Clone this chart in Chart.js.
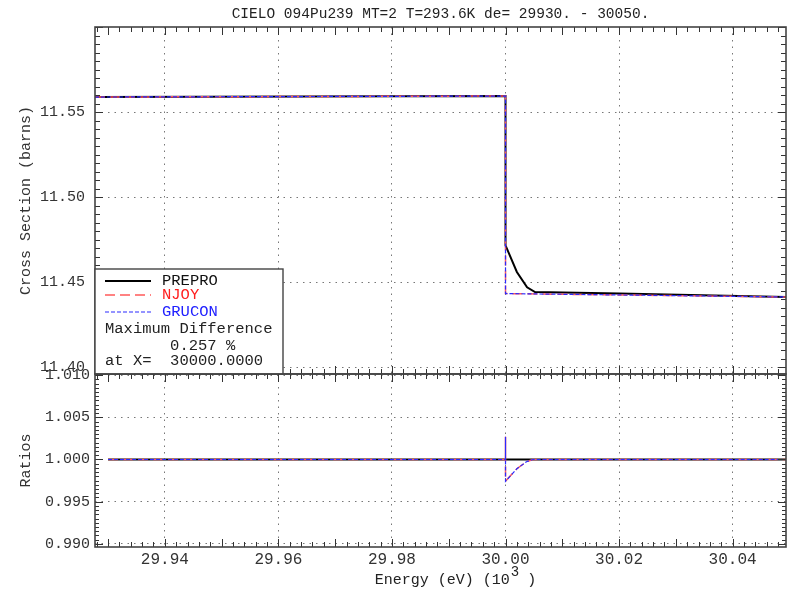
<!DOCTYPE html>
<html>
<head>
<meta charset="utf-8">
<title>CIELO 094Pu239 MT=2</title>
<script src="https://cdn.jsdelivr.net/npm/chart.js@4.4.1/dist/chart.umd.min.js"></script>
<style>
  body { margin: 0; background: #fff; }
  #wrap { position: relative; width: 788px; height: 590px; }
  #wrap canvas { position: absolute; left: 0; top: 0; }
</style>
</head>
<body>
<div id="wrap">
  <canvas id="xsChart" width="788" height="590"></canvas>
  <canvas id="ratioChart" width="788" height="590"></canvas>
</div>
<script>
// energies in units of 10^3 eV
const energyRange = [29.9277, 30.0494];
const energyTicks = [29.94, 29.96, 29.98, 30.00, 30.02, 30.04];

// cross section (barns)
const preproE   = [29.9277, 30.000, 30.000, 30.002, 30.0038, 30.0052, 30.020, 30.0494];
const preproXs  = [11.5588, 11.5594, 11.4716, 11.4559, 11.4469, 11.4441, 11.4432, 11.4412];
const njoyE     = [29.9277, 30.000, 30.000, 30.020, 30.0494];
const njoyXs    = [11.5588, 11.5594, 11.4432, 11.4424, 11.4412];
const gruconE   = [29.9277, 30.000, 30.000, 30.020, 30.0494];
const gruconXs  = [11.5588, 11.5594, 11.4432, 11.4424, 11.4412];
const xsRange   = [11.3959, 11.60];
const xsTicks   = [11.40, 11.45, 11.50, 11.55];

// ratios to PREPRO
const ratioE      = [29.930, 30.000, 30.000, 30.000, 30.002, 30.0037, 30.0048, 30.050];
const njoyRatio   = [1.0000, 1.0000, 1.0027, 0.99743, 0.9989, 0.99974, 1.0000, 1.0000];
const gruconRatio = [1.0000, 1.0000, 1.0027, 0.99743, 0.9989, 0.99974, 1.0000, 1.0000];
const preproRatioE = [29.930, 30.050];
const preproRatio  = [1.0000, 1.0000];
const ratioRange  = [0.98963, 1.01013];
const ratioTicks  = [0.990, 0.995, 1.000, 1.005, 1.010];

const MONO = "'Liberation Mono', 'DejaVu Sans Mono', monospace";
Chart.defaults.font.family = MONO;
Chart.defaults.color = '#222';

const toPoints = (xs, ys) => xs.map((x, i) => ({ x: x, y: ys[i] }));

const lineStyles = {
  PREPRO: { color: '#000000', width: 2, dash: [] },
  NJOY:   { color: '#ff5a5a', width: 1.5, dash: [10, 5] },
  GRUCON: { color: '#2a2aff', width: 1.2, dash: [4, 2] }
};

function series(label, xs, ys, order) {
  const st = lineStyles[label];
  return {
    label: label,
    data: toPoints(xs, ys),
    borderColor: st.color,
    borderWidth: st.width,
    borderDash: st.dash,
    pointRadius: 0,
    tension: 0,
    fill: false,
    order: order
  };
}

const dotted = { display: false, dash: [1.5, 5] };
const gridStyle = { color: '#777', lineWidth: 1, drawTicks: false };

// inward tick marks and the frame round each panel
const panelFrame = {
  id: 'panelFrame',
  afterDatasetsDraw(chart, args, o) {
    const { ctx, chartArea: a, scales } = chart;
    const x = scales.x, y = scales.y;
    ctx.save();
    ctx.strokeStyle = '#333';
    ctx.lineWidth = 1;
    ctx.beginPath();
    for (let i = Math.ceil(x.min / o.xStep - 1e-6); i * o.xStep <= x.max + 1e-9; i++) {
      const px = Math.round(x.getPixelForValue(i * o.xStep)) + 0.5;
      const len = i % o.xMajor === 0 ? 8 : 5;
      ctx.moveTo(px, a.top); ctx.lineTo(px, a.top + len);
      ctx.moveTo(px, a.bottom); ctx.lineTo(px, a.bottom - len);
    }
    for (let i = Math.ceil(y.min / o.yStep - 1e-6); i * o.yStep <= y.max + 1e-9; i++) {
      const py = Math.round(y.getPixelForValue(i * o.yStep)) + 0.5;
      const len = i % o.yMajor === 0 ? 8 : o.yMinorLen;
      ctx.moveTo(a.left, py); ctx.lineTo(a.left + len, py);
      ctx.moveTo(a.right, py); ctx.lineTo(a.right - len, py);
    }
    ctx.stroke();
    ctx.lineWidth = 1.6;
    ctx.strokeStyle = '#444';
    ctx.strokeRect(a.left, a.top, a.right - a.left, a.bottom - a.top);
    ctx.restore();
  }
};

// legend box with the maximum difference note
const legendBox = {
  id: 'legendBox',
  afterDraw(chart) {
    const { ctx, chartArea: a } = chart;
    const top = a.bottom - 105, left = a.left, w = 188;
    ctx.save();
    ctx.fillStyle = '#fff';
    ctx.fillRect(left, top, w, a.bottom - top);
    ctx.strokeStyle = '#444';
    ctx.lineWidth = 1.4;
    ctx.strokeRect(left, top, w, a.bottom - top);

    ctx.font = '15.5px ' + MONO;
    ctx.textBaseline = 'middle';
    const cw = ctx.measureText('0').width;
    const rows = [
      { label: 'PREPRO', text: '#111', dy: 12 },
      { label: 'NJOY', text: '#ff2020', dy: 26 },
      { label: 'GRUCON', text: '#2020ff', dy: 43 }
    ];
    rows.forEach(r => {
      const st = lineStyles[r.label];
      const yy = top + r.dy;
      ctx.strokeStyle = st.color;
      ctx.lineWidth = st.width;
      ctx.setLineDash(st.dash);
      ctx.beginPath();
      ctx.moveTo(left + 10, yy);
      ctx.lineTo(left + 56, yy);
      ctx.stroke();
      ctx.setLineDash([]);
      ctx.fillStyle = r.text;
      ctx.fillText(r.label, left + 67, yy);
    });
    ctx.fillStyle = '#222';
    ctx.fillText('Maximum Difference', left + 10, top + 60);
    ctx.fillText('0.257 %', left + 10 + 7 * cw, top + 77);
    ctx.fillText('at X=', left + 10, top + 92);
    ctx.fillText('30000.0000', left + 10 + 7 * cw, top + 92);
    ctx.restore();
  }
};

// x axis title with the 10^3 exponent raised
const energyTitle = {
  id: 'energyTitle',
  afterDraw(chart) {
    const { ctx, chartArea: a } = chart;
    ctx.save();
    ctx.fillStyle = '#222';
    ctx.textBaseline = 'middle';
    ctx.font = '15px ' + MONO;
    const head = 'Energy (eV) (10', tail = ' )';
    const wHead = ctx.measureText(head).width;
    const wTail = ctx.measureText(tail).width;
    ctx.font = '14px ' + MONO;
    const wExp = ctx.measureText('3').width;
    const cx = (a.left + a.right) / 2 + 15;
    let xx = cx - (wHead + wExp + wTail) / 2;
    const yy = 580;
    ctx.font = '15px ' + MONO;
    ctx.fillText(head, xx, yy);
    xx += wHead;
    ctx.font = '14px ' + MONO;
    ctx.fillText('3', xx + 1, yy - 8);
    xx += wExp;
    ctx.font = '15px ' + MONO;
    ctx.fillText(tail, xx, yy);
    ctx.restore();
  }
};

function energyAxis(showLabels) {
  return {
    type: 'linear',
    min: energyRange[0],
    max: energyRange[1],
    afterBuildTicks: s => { s.ticks = energyTicks.map(v => ({ value: v })); },
    afterFit: s => { s.height = showLabels ? 43 : 0; },
    grid: gridStyle,
    border: dotted,
    ticks: {
      display: showLabels,
      padding: 3,
      maxRotation: 0,
      font: { size: 16 },
      color: '#333',
      callback: v => v.toFixed(2)
    }
  };
}

function valueAxis(range, tickVals, digits, title, pad) {
  return {
    type: 'linear',
    min: range[0],
    max: range[1],
    afterBuildTicks: s => { s.ticks = tickVals.map(v => ({ value: v })); },
    afterFit: s => { s.width = 95; },
    grid: gridStyle,
    border: dotted,
    ticks: {
      padding: pad,
      font: { size: 15 },
      color: '#333',
      callback: v => v.toFixed(digits)
    },
    title: {
      display: true,
      text: title,
      font: { size: 15 },
      color: '#333',
      padding: { top: 17, bottom: 0 }
    }
  };
}

new Chart(document.getElementById('xsChart'), {
  type: 'line',
  data: {
    datasets: [
      series('PREPRO', preproE, preproXs, 3),
      series('NJOY', njoyE, njoyXs, 2),
      series('GRUCON', gruconE, gruconXs, 1)
    ]
  },
  options: {
    responsive: false,
    animation: false,
    layout: { padding: { top: 0, left: 0, right: 2, bottom: 216 } },
    scales: {
      x: energyAxis(false),
      y: valueAxis(xsRange, xsTicks, 2, 'Cross Section (barns)', 10)
    },
    plugins: {
      legend: { display: false },
      tooltip: { enabled: false },
      title: {
        display: true,
        fullSize: false,
        text: 'CIELO 094Pu239 MT=2 T=293.6K de= 29930. - 30050.',
        font: { size: 14.5, weight: 'normal', lineHeight: 1.2 },
        color: '#222',
        padding: { top: 5.6, bottom: 4 }
      },
      panelFrame: { xStep: 0.002, xMajor: 5, yStep: 0.005, yMajor: 10, yMinorLen: 5 }
    }
  },
  plugins: [panelFrame, legendBox]
});

new Chart(document.getElementById('ratioChart'), {
  type: 'line',
  data: {
    datasets: [
      series('PREPRO', preproRatioE, preproRatio, 3),
      series('NJOY', ratioE, njoyRatio, 2),
      series('GRUCON', ratioE, gruconRatio, 1)
    ]
  },
  options: {
    responsive: false,
    animation: false,
    layout: { padding: { top: 374, left: 0, right: 2, bottom: 0 } },
    scales: {
      x: energyAxis(true),
      y: valueAxis(ratioRange, ratioTicks, 3, 'Ratios', 5)
    },
    plugins: {
      legend: { display: false },
      tooltip: { enabled: false },
      title: { display: false },
      panelFrame: { xStep: 0.002, xMajor: 5, yStep: 0.0005, yMajor: 10, yMinorLen: 4 }
    }
  },
  plugins: [panelFrame, energyTitle]
});
</script>
</body>
</html>
